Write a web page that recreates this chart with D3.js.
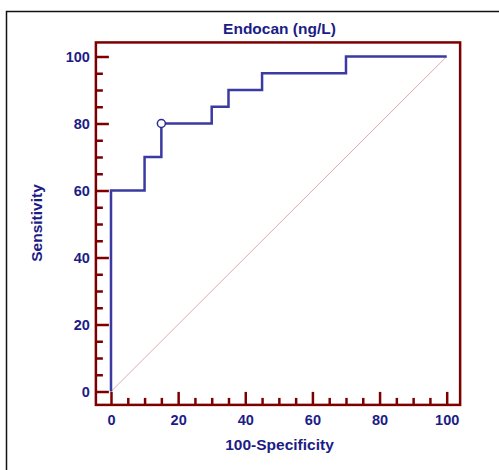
<!DOCTYPE html>
<html>
<head>
<meta charset="utf-8">
<script src="https://cdn.jsdelivr.net/npm/d3@7"></script>
<style>
  body { margin: 0; background: #fff; }
  svg { display: block; }
  text { font-family: "Liberation Sans", Arial, sans-serif; font-weight: bold; fill: #1c1c86; }
</style>
</head>
<body>
<script>
// ROC curve steps (100-Specificity, Sensitivity)
const rocX = [0, 0, 10, 10, 15, 15, 30, 30, 35, 35, 45, 45, 70, 70, 100];
const rocY = [0, 60, 60, 70, 70, 80, 80, 85, 85, 90, 90, 95, 95, 100, 100];
// criterion point (circle)
const pointX = [15];
const pointY = [80];
const majorTicks = [0, 20, 40, 60, 80, 100];
const minorTicks = d3.range(0, 101, 5).filter(d => d % 20 !== 0);

const titre = "Endocan (ng/L)";
const labelX = "100-Specificity";
const labelY = "Sensitivity";

const width = 499, height = 470;

const svg = d3.select("body").append("svg")
    .attr("width", width)
    .attr("height", height);

// cadre extérieur noir
svg.append("rect")
    .attr("x", 6.5).attr("y", 11.5)
    .attr("width", 520).attr("height", 500)
    .attr("fill", "none")
    .attr("stroke", "#111")
    .attr("stroke-width", 1.5);

// Echelles
const echelleX = d3.scaleLinear().domain([0, 100]).range([111, 446.7]);
const echelleY = d3.scaleLinear().domain([0, 100]).range([391.5, 56.5]);

const cadre = {
    left: echelleX(-4.5), right: echelleX(104),
    top: echelleY(104.2), bottom: echelleY(-4)
};

const rouge = "#7d0000";

// diagonale
svg.append("line")
    .attr("x1", echelleX(0)).attr("y1", echelleY(0))
    .attr("x2", echelleX(100)).attr("y2", echelleY(100))
    .attr("stroke", "#e2a9a9")
    .attr("stroke-width", 1);

// Axe Y (ticks vers l'intérieur)
const axeY = svg.append("g")
    .attr("transform", "translate(" + cadre.left + ",0)")
    .call(d3.axisLeft(echelleY).tickValues(majorTicks).tickSize(-13).tickPadding(6));
svg.append("g")
    .attr("transform", "translate(" + cadre.left + ",0)")
    .call(d3.axisLeft(echelleY).tickValues(minorTicks).tickSize(-7).tickFormat(""));

// Axe X
const axeX = svg.append("g")
    .attr("transform", "translate(0," + cadre.bottom + ")")
    .call(d3.axisBottom(echelleX).tickValues(majorTicks).tickSize(-13).tickPadding(10));
svg.append("g")
    .attr("transform", "translate(0," + cadre.bottom + ")")
    .call(d3.axisBottom(echelleX).tickValues(minorTicks).tickSize(-7).tickFormat(""));

svg.selectAll(".domain").remove();
svg.selectAll(".tick line")
    .attr("stroke", rouge)
    .attr("stroke-width", 2.5);
svg.selectAll(".tick text")
    .attr("fill", "#1c1c86")
    .style("font-size", "14.5px")
    .style("font-family", "'Liberation Sans', Arial, sans-serif")
    .style("font-weight", "bold");

// cadre du graphique
svg.append("rect")
    .attr("x", cadre.left).attr("y", cadre.top)
    .attr("width", cadre.right - cadre.left)
    .attr("height", cadre.bottom - cadre.top)
    .attr("fill", "none")
    .attr("stroke", rouge)
    .attr("stroke-width", 2.5);

// courbe ROC
const points = rocX.map((x, i) => [x, rocY[i]]);
const ligne = d3.line()
    .x(d => echelleX(d[0]))
    .y(d => echelleY(d[1]));

svg.append("path")
    .attr("d", ligne(points))
    .attr("fill", "none")
    .attr("stroke", "#3a3aa2")
    .attr("stroke-width", 2.5);

svg.selectAll(".critere").data(pointX)
    .enter().append("circle")
    .attr("class", "critere")
    .attr("cx", d => echelleX(d))
    .attr("cy", (d, i) => echelleY(pointY[i]))
    .attr("r", 4)
    .attr("fill", "#fff")
    .attr("stroke", "#2a2a90")
    .attr("stroke-width", 1.5);

// Titres
svg.append("text")
    .attr("x", 279.5).attr("y", 33.5)
    .attr("text-anchor", "middle")
    .style("font-size", "15.5px")
    .text(titre);

svg.append("text")
    .attr("x", 279.5).attr("y", 450)
    .attr("text-anchor", "middle")
    .style("font-size", "15.5px")
    .text(labelX);

svg.append("text")
    .attr("transform", "translate(42,223) rotate(-90)")
    .attr("text-anchor", "middle")
    .style("font-size", "15.5px")
    .text(labelY);
</script>
</body>
</html>
